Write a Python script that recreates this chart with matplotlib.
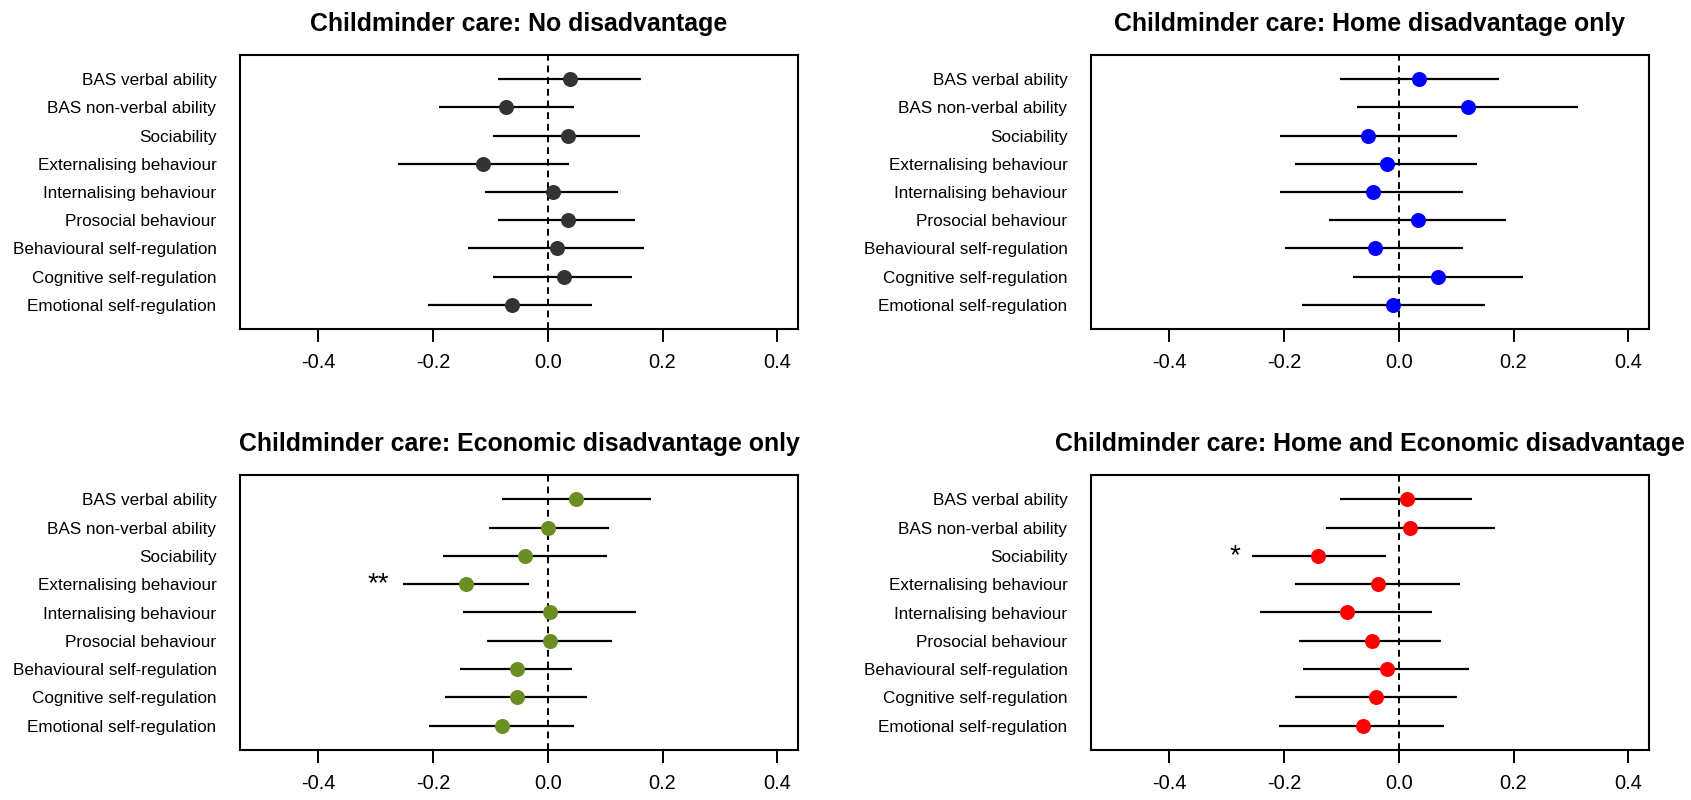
import matplotlib
matplotlib.use("Agg")
import matplotlib.pyplot as plt
import numpy as np

plt.rcParams['font.family'] = ['Liberation Sans', 'DejaVu Sans']

outcomes = ["BAS verbal ability", "BAS non-verbal ability", "Sociability",
            "Externalising behaviour", "Internalising behaviour", "Prosocial behaviour",
            "Behavioural self-regulation", "Cognitive self-regulation",
            "Emotional self-regulation"]

titles = ["Childminder care: No disadvantage",
          "Childminder care: Home disadvantage only",
          "Childminder care: Economic disadvantage only",
          "Childminder care: Home and Economic disadvantage"]

colors = ["#333333", "#0000FF", "#6B8E23", "#FF0000"]

# Panel 1: No disadvantage
est_none = [0.039, -0.072, 0.035, -0.112, 0.010, 0.035, 0.016, 0.029, -0.063]
lo_none = [-0.087, -0.190, -0.095, -0.260, -0.109, -0.087, -0.139, -0.095, -0.209]
hi_none = [0.163, 0.045, 0.161, 0.037, 0.123, 0.152, 0.167, 0.147, 0.077]

# Panel 2: Home disadvantage only
est_home = [0.036, 0.120, -0.053, -0.021, -0.045, 0.034, -0.042, 0.069, -0.010]
lo_home = [-0.103, -0.073, -0.206, -0.181, -0.206, -0.122, -0.198, -0.079, -0.168]
hi_home = [0.174, 0.312, 0.101, 0.137, 0.112, 0.187, 0.112, 0.217, 0.150]

# Panel 3: Economic disadvantage only
est_econ = [0.050, 0.001, -0.039, -0.142, 0.004, 0.004, -0.053, -0.053, -0.079]
lo_econ = [-0.079, -0.103, -0.182, -0.252, -0.147, -0.105, -0.152, -0.179, -0.206]
hi_econ = [0.180, 0.107, 0.104, -0.033, 0.153, 0.112, 0.042, 0.069, 0.045]

# Panel 4: Home and Economic disadvantage
est_both = [0.015, 0.020, -0.140, -0.036, -0.090, -0.047, -0.021, -0.040, -0.063]
lo_both = [-0.103, -0.127, -0.255, -0.181, -0.241, -0.174, -0.166, -0.181, -0.209]
hi_both = [0.128, 0.167, -0.023, 0.107, 0.058, 0.074, 0.122, 0.102, 0.079]

# significance markers: (panel, outcome index, label, x position)
sig_panel = [2, 3]
sig_row = [3, 2]
sig_text = ["**", "*"]
sig_x = [-0.295, -0.285]

xticks = [-0.4, -0.2, 0.0, 0.2, 0.4]
xtick_labels = ["-0.4", "-0.2", "0.0", "0.2", "0.4"]

panels = [(est_none, lo_none, hi_none), (est_home, lo_home, hi_home),
          (est_econ, lo_econ, hi_econ), (est_both, lo_both, hi_both)]

W, H = 1691, 800
fig = plt.figure(figsize=(W / 100, H / 100), dpi=100)

# axes boxes in pixels: (left, top, right, bottom)
boxes = [(240, 55, 798, 329), (1091, 55, 1649, 329),
         (240, 475, 798, 750), (1091, 475, 1649, 750)]

n = len(outcomes)
ypos = np.arange(n, 0, -1)

for i, (est, lo, hi) in enumerate(panels):
    l, t, r, b = boxes[i]
    ax = fig.add_axes([l / W, 1 - b / H, (r - l) / W, (b - t) / H])
    ax.axvline(0, color="black", lw=1.4, ls=(0, (3.5, 2.5)), zorder=1)
    ax.hlines(ypos, lo, hi, color="black", lw=1.6, zorder=2)
    ax.plot(est, ypos, "o", color=colors[i], markersize=10.8, zorder=3,
            markeredgewidth=0)
    ax.set_xlim(-0.536, 0.436)
    ax.set_ylim(0.14, 9.86)
    ax.set_yticks(ypos)
    ax.set_yticklabels(outcomes, fontsize=12.3)
    ax.tick_params(axis="y", length=0, pad=17)
    ax.set_xticks(xticks)
    ax.set_xticklabels(xtick_labels, fontsize=14.4)
    ax.tick_params(axis="x", length=9, width=1.4, pad=8)
    for s in ax.spines.values():
        s.set_linewidth(1.5)
    ax.set_title(titles[i], fontsize=17.9, fontweight="bold", pad=17)
    for p, row, txt, sx in zip(sig_panel, sig_row, sig_text, sig_x):
        if p == i:
            ax.text(sx, ypos[row], txt, fontsize=20, ha="center", va="center")

fig.savefig("out.png", dpi=100)
